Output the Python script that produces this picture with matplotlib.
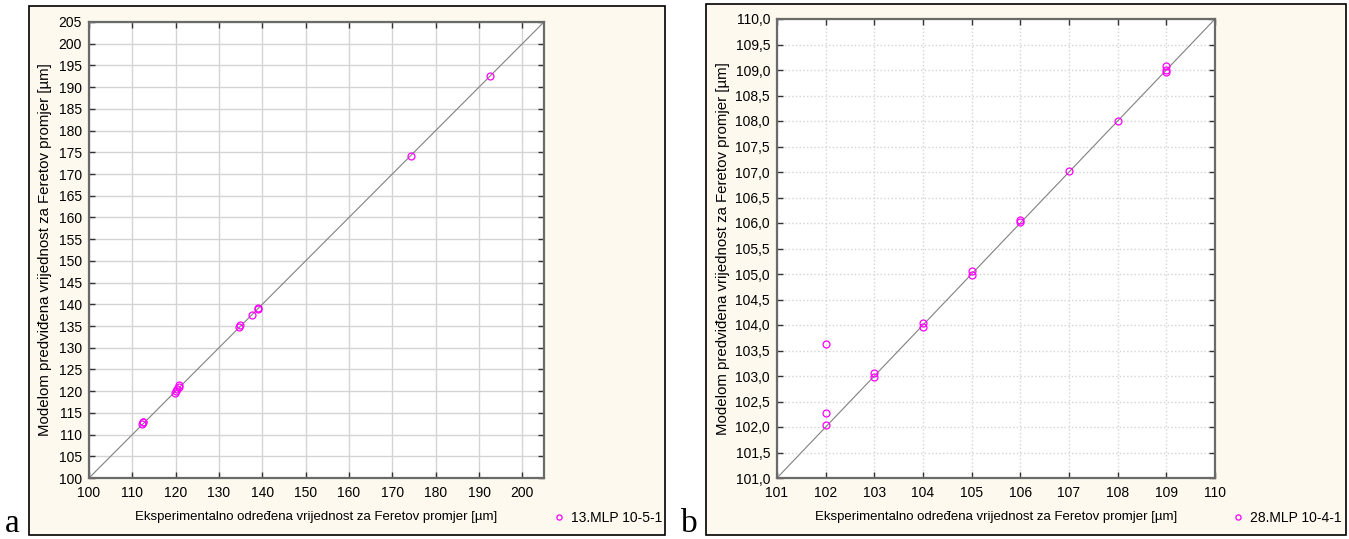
import matplotlib
matplotlib.use("Agg")
import matplotlib.pyplot as plt
from matplotlib.patches import Rectangle
from matplotlib.ticker import FuncFormatter

plt.rcParams['font.family'] = ['Liberation Sans', 'DejaVu Sans']

# Panel a data
a_x = [112.3, 112.4, 112.5, 119.8, 120.1, 120.4, 120.7, 120.8, 134.7, 134.9, 137.5, 139.0, 139.1, 174.2, 192.6]
a_y = [112.4, 112.8, 113.0, 119.6, 120.0, 120.4, 121.0, 121.5, 134.8, 135.3, 137.5, 138.8, 139.2, 174.2, 192.6]
a_xticks = list(range(100, 201, 10))
a_yticks = list(range(100, 206, 5))
a_label = "13.MLP 10-5-1"

# Panel b data
b_x = [102, 102, 102, 103, 103, 104, 104, 105, 105, 106, 106, 107, 108, 109, 109, 109]
b_y = [103.63, 102.27, 102.04, 103.05, 102.98, 104.04, 103.97, 105.06, 104.98, 106.05, 106.01, 107.01, 108.0, 109.07, 109.0, 108.96]
b_xticks = list(range(101, 111))
b_yticks = [101 + 0.5 * i for i in range(19)]
b_label = "28.MLP 10-4-1"

xlabel = "Eksperimentalno određena vrijednost za Feretov promjer [µm]"
ylabel = "Modelom predviđena vrijednost za Feretov promjer [µm]"

W, H = 1349, 539
fig = plt.figure(figsize=(W / 100, H / 100), dpi=100)
fig.patch.set_facecolor('white')

cream = '#fdf9ee'
def box(x0, y0, x1, y1):
    r = Rectangle((x0 / W, 1 - y1 / H), (x1 - x0) / W, (y1 - y0) / H,
                  transform=fig.transFigure, facecolor=cream,
                  edgecolor='black', linewidth=1.2, zorder=-10)
    fig.add_artist(r)
box(29, 6, 665, 535)
box(706, 4, 1346, 535)

fs = 10
mag = '#ff00ff'

def setup(ax, xlim, ylim, xt, yt, grid_ls, fmt):
    ax.set_xlim(*xlim)
    ax.set_ylim(*ylim)
    ax.set_xticks(xt)
    ax.set_yticks(yt)
    ax.yaxis.set_major_formatter(FuncFormatter(fmt))
    ax.tick_params(direction='in', top=True, right=True, length=4, width=1, labelsize=fs,
                   colors='#333333', labelcolor='black')
    ax.tick_params(axis='x', pad=6)
    ax.tick_params(axis='y', pad=5)
    ax.grid(True, color='#d4d4d4', linestyle=grid_ls, linewidth=1)
    ax.set_axisbelow(True)
    for s in ax.spines.values():
        s.set_color('#6a6a6a')
        s.set_linewidth(1.6)
    ax.set_facecolor('white')

def legend(ax, x0):
    ax.legend(loc='center left', bbox_to_anchor=(x0 / W, 1 - 518 / H), bbox_transform=fig.transFigure,
              frameon=False, fontsize=fs, handletextpad=0.5, handlelength=0.8,
              borderpad=0, borderaxespad=0, markerscale=0.75)

# Panel a
axa = fig.add_axes([89 / W, 1 - 478 / H, (544 - 89) / W, (478 - 22) / H], zorder=1)
setup(axa, (100, 205), (100, 205), a_xticks, a_yticks, '-', lambda v, p: f"{v:.0f}")
axa.plot([100, 205], [100, 205], color='#808080', linewidth=0.8, zorder=2)
axa.plot(a_x, a_y, linestyle='none', marker='o', markersize=5, markerfacecolor='none',
         markeredgecolor=mag, markeredgewidth=0.9, zorder=3, label=a_label)
axa.set_xlabel(xlabel, fontsize=9.5, labelpad=8)
axa.set_ylabel(ylabel, fontsize=10.8, labelpad=5)
legend(axa, 553)

# Panel b
axb = fig.add_axes([777 / W, 1 - 478 / H, (1215 - 777) / W, (478 - 19) / H], zorder=1)
setup(axb, (101, 110), (101, 110), b_xticks, b_yticks, ':', lambda v, p: f"{v:.1f}".replace('.', ','))
axb.plot([101, 110], [101, 110], color='#808080', linewidth=0.8, zorder=2)
axb.plot(b_x, b_y, linestyle='none', marker='o', markersize=5, markerfacecolor='none',
         markeredgecolor=mag, markeredgewidth=0.9, zorder=3, label=b_label)
axb.set_xlabel(xlabel, fontsize=9.5, labelpad=8)
axb.set_ylabel(ylabel, fontsize=10.8, labelpad=4)
legend(axb, 1232)

fig.text(5 / W, 1 - 532 / H, 'a', fontsize=24, family=['Liberation Serif'], ha='left', va='baseline')
fig.text(681 / W, 1 - 532 / H, 'b', fontsize=24, family=['Liberation Serif'], ha='left', va='baseline')

fig.savefig('out.png', dpi=100, facecolor='white')
